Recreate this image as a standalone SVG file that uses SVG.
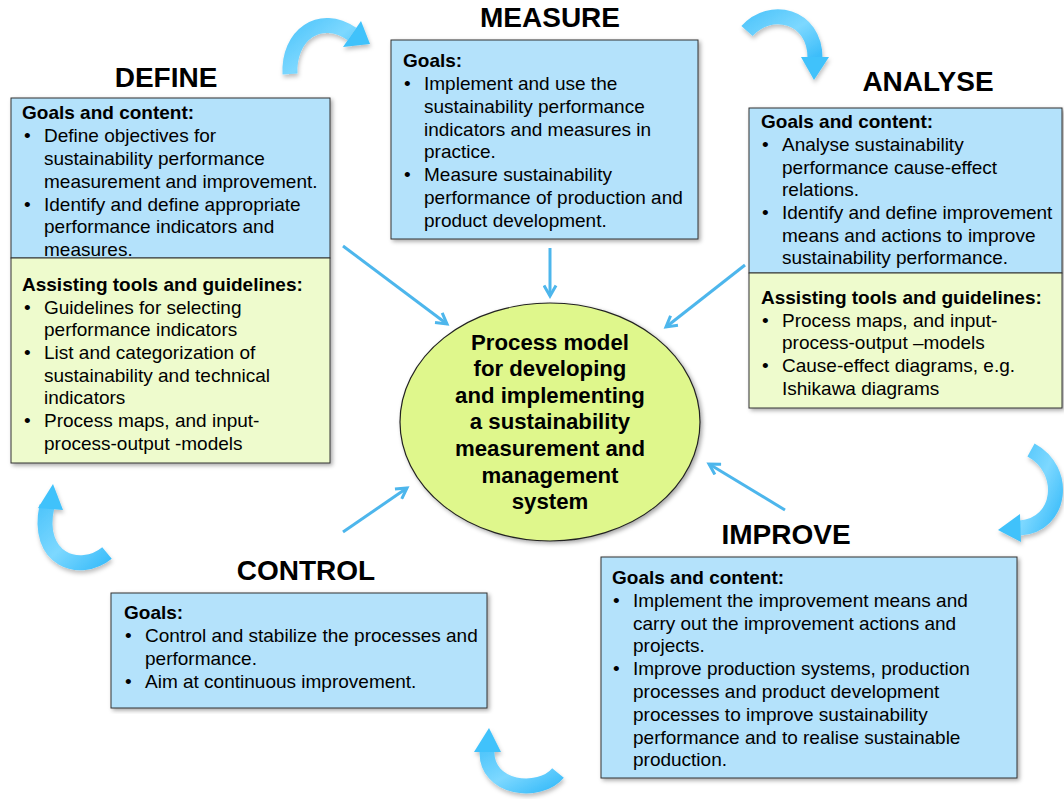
<svg xmlns="http://www.w3.org/2000/svg" width="1064" height="799" viewBox="0 0 1064 799">
<style>
.t{font-family:"Liberation Sans",Arial,sans-serif;font-size:19px;fill:#000}
.b{font-weight:bold}
.ttl{font-family:"Liberation Sans",Arial,sans-serif;font-size:28px;font-weight:bold;text-anchor:middle;fill:#000}
.ctr{font-family:"Liberation Sans",Arial,sans-serif;font-size:22.2px;font-weight:bold;text-anchor:middle;fill:#000}
.blue{fill:#b4e2fb;stroke:#333;stroke-width:1}
.green{fill:#eefbcd;stroke:#333;stroke-width:1}
.con{stroke:#4db6ec;stroke-width:3;fill:none;marker-end:url(#ah)}
.curve{fill:none;stroke:url(#cg);stroke-width:15}
.head{fill:#3fc2fb}
</style>
<defs>
<filter id="sh" x="-5%" y="-5%" width="110%" height="110%"><feDropShadow dx="2" dy="2" stdDeviation="2" flood-color="#000" flood-opacity="0.35"/></filter>
<filter id="sh2" x="-20%" y="-20%" width="140%" height="140%"><feDropShadow dx="1" dy="3" stdDeviation="2" flood-color="#000" flood-opacity="0.25"/></filter>
<marker id="ah" viewBox="0 0 10 10" refX="8" refY="5" markerWidth="5" markerHeight="5" orient="auto" markerUnits="strokeWidth"><path d="M1,1 L8,5 L1,9" fill="none" stroke="#4db6ec" stroke-width="2"/></marker>
<linearGradient id="cg" x1="0" y1="0" x2="1" y2="1"><stop offset="0" stop-color="#52c6fb"/><stop offset="0.5" stop-color="#7dd8ff"/><stop offset="1" stop-color="#3cbdfa"/></linearGradient>
</defs>

<g id="cycle-arrows" filter="url(#sh2)">
<path class="curve" d="M290,74 C288,35 320,12 352,34"/>
<polygon class="head" points="343,47 361,21 370,44"/>
<path class="curve" d="M747,31 C770,5 815,15 815,58"/>
<polygon class="head" points="801,57 829,57 814,80"/>
<path class="curve" d="M1031,450 C1068,470 1062,525 1020,528"/>
<polygon class="head" points="1020,514 1021,542 998,530"/>
<path class="curve" d="M558,773 C540,795 485,790 487,750"/>
<polygon class="head" points="474,752 501,752 489,728"/>
<path class="curve" d="M107,553 C80,575 35,560 47,506"/>
<polygon class="head" points="38,508 63,510 53,484"/>
</g>

<g id="connectors">
<line class="con" x1="343" y1="246" x2="447" y2="324"/>
<line class="con" x1="550" y1="248" x2="550" y2="296"/>
<line class="con" x1="745" y1="265" x2="666" y2="327"/>
<line class="con" x1="343" y1="532" x2="407" y2="488"/>
<line class="con" x1="785" y1="510" x2="709" y2="464"/>
</g>

<g id="center">
<ellipse cx="550" cy="422" rx="150" ry="119" fill="#dff78c" stroke="#222" stroke-width="1.2" filter="url(#sh)"/>
<text class="ctr" x="550" y="350">Process model</text>
<text class="ctr" x="550" y="376">for developing</text>
<text class="ctr" x="550" y="403">and implementing</text>
<text class="ctr" x="550" y="429">a sustainability</text>
<text class="ctr" x="550" y="456">measurement and</text>
<text class="ctr" x="550" y="483">management</text>
<text class="ctr" x="550" y="509">system</text>
</g>

<g id="define">
<text class="ttl" x="166" y="87">DEFINE</text>
<g filter="url(#sh)">
<rect class="blue" x="11" y="98" width="319" height="160"/>
<rect class="green" x="11" y="258" width="319" height="205"/>
</g>
<text class="t b" x="22" y="119">Goals and content:</text>
<text class="t" x="24" y="142">•</text><text class="t" x="44" y="142">Define objectives for</text>
<text class="t" x="44" y="165">sustainability performance</text>
<text class="t" x="44" y="188">measurement and improvement.</text>
<text class="t" x="24" y="211">•</text><text class="t" x="44" y="211">Identify and define appropriate</text>
<text class="t" x="44" y="233">performance indicators and</text>
<text class="t" x="44" y="256">measures.</text>
<text class="t b" x="22" y="291">Assisting tools and guidelines:</text>
<text class="t" x="24" y="314">•</text><text class="t" x="44" y="314">Guidelines for selecting</text>
<text class="t" x="44" y="336">performance indicators</text>
<text class="t" x="24" y="359">•</text><text class="t" x="44" y="359">List and categorization of</text>
<text class="t" x="44" y="382">sustainability and technical</text>
<text class="t" x="44" y="404">indicators</text>
<text class="t" x="24" y="427">•</text><text class="t" x="44" y="427">Process maps, and input-</text>
<text class="t" x="44" y="450">process-output -models</text>
</g>

<g id="measure">
<text class="ttl" x="550" y="27">MEASURE</text>
<rect class="blue" x="391" y="40" width="307" height="199" filter="url(#sh)"/>
<text class="t b" x="403" y="67">Goals:</text>
<text class="t" x="404" y="90">•</text><text class="t" x="424" y="90">Implement and use the</text>
<text class="t" x="424" y="113">sustainability performance</text>
<text class="t" x="424" y="136">indicators and measures in</text>
<text class="t" x="424" y="158">practice.</text>
<text class="t" x="404" y="181">•</text><text class="t" x="424" y="181">Measure sustainability</text>
<text class="t" x="424" y="204">performance of production and</text>
<text class="t" x="424" y="227">product development.</text>
</g>

<g id="analyse">
<text class="ttl" x="928" y="91">ANALYSE</text>
<g filter="url(#sh)">
<rect class="blue" x="749" y="108" width="313" height="165"/>
<rect class="green" x="749" y="273" width="313" height="135"/>
</g>
<text class="t b" x="761" y="128">Goals and content:</text>
<text class="t" x="762" y="151">•</text><text class="t" x="782" y="151">Analyse sustainability</text>
<text class="t" x="782" y="174">performance cause-effect</text>
<text class="t" x="782" y="196">relations.</text>
<text class="t" x="762" y="219">•</text><text class="t" x="782" y="219">Identify and define improvement</text>
<text class="t" x="782" y="242">means and actions to improve</text>
<text class="t" x="782" y="264">sustainability performance.</text>
<text class="t b" x="761" y="304">Assisting tools and guidelines:</text>
<text class="t" x="762" y="327">•</text><text class="t" x="782" y="327">Process maps, and input-</text>
<text class="t" x="782" y="349">process-output –models</text>
<text class="t" x="762" y="372">•</text><text class="t" x="782" y="372">Cause-effect diagrams, e.g.</text>
<text class="t" x="782" y="395">Ishikawa diagrams</text>
</g>

<g id="control">
<text class="ttl" x="306" y="580">CONTROL</text>
<rect class="blue" x="111" y="593" width="376" height="115" filter="url(#sh)"/>
<text class="t b" x="124" y="619">Goals:</text>
<text class="t" x="125" y="642">•</text><text class="t" x="145" y="642">Control and stabilize the processes and</text>
<text class="t" x="145" y="665">performance.</text>
<text class="t" x="125" y="688">•</text><text class="t" x="145" y="688">Aim at continuous improvement.</text>
</g>

<g id="improve">
<text class="ttl" x="786" y="544">IMPROVE</text>
<rect class="blue" x="601" y="557" width="416" height="221" filter="url(#sh)"/>
<text class="t b" x="612" y="584">Goals and content:</text>
<text class="t" x="613" y="607">•</text><text class="t" x="633" y="607">Implement the improvement means and</text>
<text class="t" x="633" y="630">carry out the improvement actions and</text>
<text class="t" x="633" y="652">projects.</text>
<text class="t" x="613" y="675">•</text><text class="t" x="633" y="675">Improve production systems, production</text>
<text class="t" x="633" y="698">processes and product development</text>
<text class="t" x="633" y="721">processes to improve sustainability</text>
<text class="t" x="633" y="744">performance and to realise sustainable</text>
<text class="t" x="633" y="766">production.</text>
</g>
</svg>
